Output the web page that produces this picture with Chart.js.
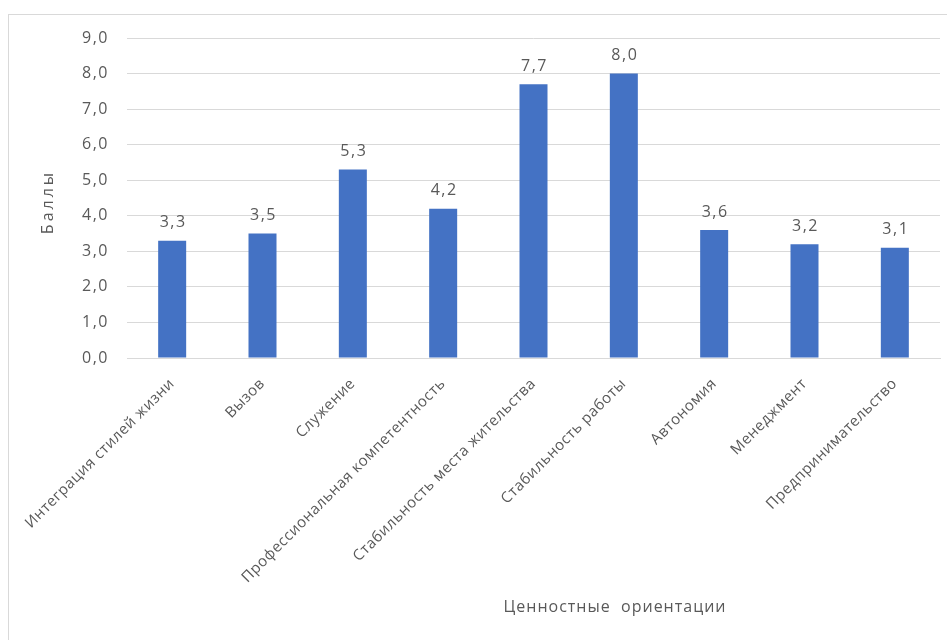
<!DOCTYPE html>
<html>
<head>
<meta charset="utf-8">
<script src="https://cdn.jsdelivr.net/npm/chart.js@4"></script>
<style>
  html, body { margin: 0; padding: 0; background: #fff; }
  #wrap { width: 947px; height: 640px; position: relative; }
</style>
</head>
<body>
<div id="wrap"><canvas id="c" width="947" height="640"></canvas></div>
<script>
const categories = [
  "Интеграция стилей жизни",
  "Вызов",
  "Служение",
  "Профессиональная компетентность",
  "Стабильность места жительства",
  "Стабильность работы",
  "Автономия",
  "Менеджмент",
  "Предпринимательство"
];
const values = [3.3, 3.5, 5.3, 4.2, 7.7, 8.0, 3.6, 3.2, 3.1];
const yTicks = [0, 1, 2, 3, 4, 5, 6, 7, 8, 9];
const yTitle = "Баллы";
const xTitle = "Ценностные  ориентации";

const FONT = "'Open Sans', 'Noto Sans', sans-serif";
const TXT = "#595959";
const fmt = v => Number(v).toFixed(1).replace('.', ',');

function wrapLabels(scale, spacing) {
  if (scale._lsWrapped) return;
  scale._lsWrapped = true;
  const orig = scale.drawLabels;
  scale.drawLabels = function (area) {
    const ctx = this.ctx;
    ctx.save();
    ctx.letterSpacing = spacing;
    orig.call(this, area);
    ctx.restore();
  };
}

const decor = {
  id: 'decor',
  afterLayout(chart) {
    wrapLabels(chart.scales.x, '0.5px');
    wrapLabels(chart.scales.y, '1.5px');
  },
  beforeDraw(chart) {
    const ctx = chart.ctx;
    ctx.save();
    ctx.fillStyle = '#fff';
    ctx.fillRect(0, 0, chart.width, chart.height);
    ctx.strokeStyle = '#d9d9d9';
    ctx.lineWidth = 1;
    ctx.strokeRect(8.5, 14.5, chart.width, chart.height);
    ctx.restore();
  },
  afterDatasetsDraw(chart) {
    const ctx = chart.ctx;
    const meta = chart.getDatasetMeta(0);
    ctx.save();
    ctx.font = "16px " + FONT;
    ctx.letterSpacing = '1.5px';
    ctx.fillStyle = TXT;
    ctx.textAlign = 'center';
    ctx.textBaseline = 'bottom';
    meta.data.forEach((bar, i) => {
      ctx.fillText(fmt(values[i]), bar.x + 1, bar.y - 10);
    });
    // axis titles
    const a = chart.chartArea;
    ctx.font = "16px " + FONT;
    ctx.letterSpacing = '1px';
    ctx.textBaseline = 'middle';
    ctx.fillText(xTitle, 615, 607);
    ctx.letterSpacing = '3px';
    ctx.translate(48, (a.top + a.bottom) / 2 + 4);
    ctx.rotate(-Math.PI / 2);
    ctx.fillText(yTitle, 0, 0);
    ctx.restore();
  }
};

new Chart(document.getElementById('c'), {
  type: 'bar',
  data: {
    labels: categories,
    datasets: [{
      data: values,
      backgroundColor: '#4472C4',
      borderWidth: 0,
      categoryPercentage: 1,
      barPercentage: 0.31
    }]
  },
  options: {
    responsive: false,
    animation: false,
    devicePixelRatio: 1,
    layout: { padding: { left: 8, right: 7, top: 38, bottom: 0 } },
    plugins: { legend: { display: false }, tooltip: { enabled: false } },
    scales: {
      x: {
        offset: true,
        grid: { display: false, drawTicks: false },
        border: { display: true, color: '#d9d9d9' },
        ticks: {
          autoSkip: false, minRotation: 45, maxRotation: 45, padding: 17,
          color: TXT, font: { family: FONT, size: 15 }
        },
        afterFit(scale) { scale.height = 282; }
      },
      y: {
        min: 0, max: 9,
        afterBuildTicks(scale) { scale.ticks = yTicks.map(v => ({ value: v })); },
        grid: { color: '#d9d9d9', drawTicks: false },
        border: { display: false },
        ticks: {
          padding: 18, color: TXT, font: { family: FONT, size: 16 },
          callback: v => fmt(v)
        },
        afterFit(scale) { scale.width = 119; }
      }
    }
  },
  plugins: [decor]
});
</script>
</body>
</html>
